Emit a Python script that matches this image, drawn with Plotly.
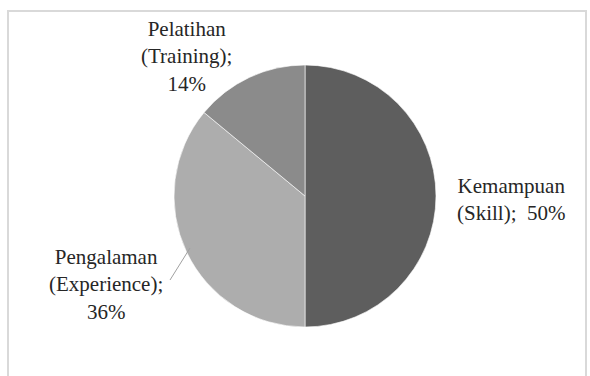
import plotly.graph_objects as go

categories = ["Kemampuan (Skill)", "Pengalaman (Experience)", "Pelatihan (Training)"]
values = [50, 36, 14]
label_lines = [
    ["Kemampuan", "(Skill);\u00a0 50%"],
    ["Pengalaman", "(Experience);", "36%"],
    ["Pelatihan", "(Training);", "14%"],
]
colors = ["#5e5e5e", "#adadad", "#8b8b8b"]

W, H = 590, 376
cx, cy, r = 305, 196, 131

fig = go.Figure()
fig.add_trace(go.Pie(
    labels=categories,
    values=values,
    sort=False,
    direction="clockwise",
    rotation=0,
    textinfo="none",
    marker=dict(colors=colors, line=dict(color="rgba(255,255,255,0.6)", width=1)),
    domain=dict(x=[(cx - r) / W, (cx + r) / W], y=[(H - cy - r) / H, (H - cy + r) / H]),
    showlegend=False,
))

# label placement (pixel centres)
label_pos = [(511, 199), (106, 284), (186, 57)]
font = dict(family="Liberation Serif", size=21, color="#262626")
annotations = []
for lines, (px, py) in zip(label_lines, label_pos):
    annotations.append(dict(
        x=px / W, y=(H - py) / H, xref="paper", yref="paper",
        text="<br>".join(lines), showarrow=False, align="center",
        xanchor="center", yanchor="middle", font=font,
    ))

shapes = [
    # chart border
    dict(type="rect", xref="paper", yref="paper",
         x0=8 / W, x1=586 / W, y0=-0.1, y1=(H - 11) / H,
         line=dict(color="#d9d9d9", width=2), fillcolor="rgba(0,0,0,0)", layer="below"),
    # leader line for Pengalaman
    dict(type="line", xref="paper", yref="paper",
         x0=190 / W, y0=(H - 248) / H, x1=170 / W, y1=(H - 280) / H,
         line=dict(color="#a0a0a0", width=1)),
]

fig.update_layout(
    width=W, height=H,
    margin=dict(l=0, r=0, t=0, b=0),
    paper_bgcolor="white", plot_bgcolor="white",
    annotations=annotations, shapes=shapes,
)

fig.write_html("out.html")
